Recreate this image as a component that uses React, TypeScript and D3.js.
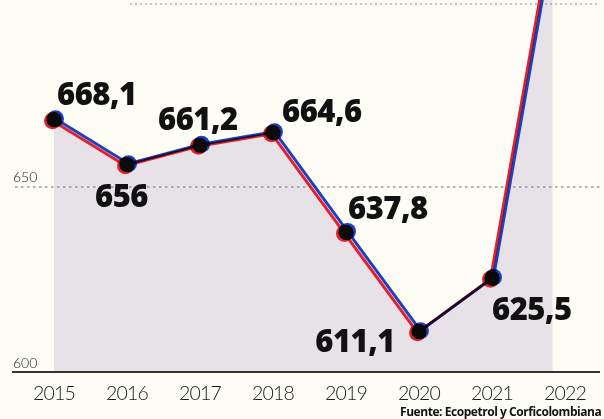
import React from "react";
import * as d3 from "d3";

const years = [2015, 2016, 2017, 2018, 2019, 2020, 2021, 2022];
const values = [668.1, 656, 661.2, 664.6, 637.8, 611.1, 625.5, 737];
const valueLabels = ["668,1", "656", "661,2", "664,6", "637,8", "611,1", "625,5"];
const yTicks = [600, 650, 700];
const source = "Fuente: Ecopetrol y Corficolombiana";

// label placement relative to each point (layout only)
const labelLayout = [
  { dx: 3, dy: -15, anchor: "start" },
  { dx: -32, dy: 42, anchor: "start" },
  { dx: -42, dy: -15, anchor: "start" },
  { dx: 9, dy: -11, anchor: "start" },
  { dx: 2, dy: -13, anchor: "start" },
  { dx: -24, dy: 20, anchor: "end" },
  { dx: 0, dy: 42, anchor: "start" },
];

const W = 604;
const H = 419;

export default function App() {
  const x = d3.scaleLinear().domain([2015, 2022]).range([54, 565]);
  const y = d3.scaleLinear().domain([600, 700]).range([373, 1]);
  const step = x(2016) - x(2015);
  const pts: [number, number][] = years.map((yr, i) => [x(yr), y(values[i])]);
  const line = d3.line<[number, number]>().x((d) => d[0]).y((d) => d[1]);
  const area = d3
    .area<[number, number]>()
    .x((d) => d[0])
    .y0(y(600))
    .y1((d) => d[1]);
  const areaRight = x(2021) + step * 0.83;

  const labelFont = "'Open Sans', 'DejaVu Sans', sans-serif";
  const lightFont = "Lato, 'Open Sans', sans-serif";

  return (
    <svg
      width={W}
      height={H}
      viewBox={`0 0 ${W} ${H}`}
      style={{ position: "absolute", left: 0, top: 0, display: "block" }}
    >
      <defs>
        <clipPath id="areaClip">
          <rect x={x(2015)} y={0} width={areaRight - x(2015)} height={y(600)} />
        </clipPath>
      </defs>
      <rect x={0} y={0} width={W} height={H} fill="#fdfdf6" />
      <path d={area(pts) || ""} fill="#e7e2e8" clipPath="url(#areaClip)" />

      {/* gridlines */}
      <line
        x1={130}
        x2={600}
        y1={y(700) + 3}
        y2={y(700) + 3}
        stroke="#8a8a8a"
        strokeWidth={1.2}
        strokeDasharray="2 3"
      />
      <line
        x1={15}
        x2={600}
        y1={y(650)}
        y2={y(650)}
        stroke="#6e6e6e"
        strokeWidth={1.2}
        strokeDasharray="2.5 3.5"
      />
      <line x1={12} x2={600} y1={y(600) - 1} y2={y(600) - 1} stroke="#333" strokeWidth={2} />

      {yTicks.slice(0, 2).map((t) => (
        <text
          key={t}
          x={13}
          y={y(t) - 5}
          fontFamily={lightFont}
          fontWeight={300}
          fontSize={14}
          fill="#222"
        >
          {t}
        </text>
      ))}

      {/* line: misregistered red/blue print */}
      <g style={{ isolation: "isolate" }}>
        <path
          d={line(pts) || ""}
          fill="none"
          stroke="#e3202e"
          strokeWidth={3}
          transform="translate(-1.5,1)"
          style={{ mixBlendMode: "multiply" }}
        />
        <path
          d={line(pts) || ""}
          fill="none"
          stroke="#1f3fbf"
          strokeWidth={3}
          transform="translate(1.5,-1)"
          style={{ mixBlendMode: "multiply" }}
        />
        {pts.slice(0, 7).map((p, i) => (
          <g key={i}>
            <circle cx={p[0] - 1.5} cy={p[1] + 1} r={8.5} fill="#e3202e" style={{ mixBlendMode: "multiply" }} />
            <circle cx={p[0] + 1.5} cy={p[1] - 1} r={8.5} fill="#1f3fbf" style={{ mixBlendMode: "multiply" }} />
            <circle cx={p[0]} cy={p[1]} r={7.6} fill="#0a0a0a" />
          </g>
        ))}
      </g>

      {pts.slice(0, 7).map((p, i) => (
        <text
          key={i}
          x={p[0] + labelLayout[i].dx}
          y={p[1] + labelLayout[i].dy}
          textAnchor={labelLayout[i].anchor}
          fontFamily={labelFont}
          fontWeight={800}
          fontSize={31}
          letterSpacing={-0.5}
          fill="#111"
        >
          {valueLabels[i]}
        </text>
      ))}

      {years.map((yr) => (
        <text
          key={yr}
          x={x(yr)}
          y={400}
          textAnchor="middle"
          fontFamily={lightFont}
          fontWeight={300}
          fontSize={19.5}
          letterSpacing={-0.8}
          fill="#1a1a1a"
        >
          {yr}
        </text>
      ))}

      <text
        x={400}
        y={416}
        fontFamily={labelFont}
        fontWeight={700}
        fontSize={12}
        letterSpacing={-0.45}
        fill="#111"
      >
        {source}
      </text>
    </svg>
  );
}
